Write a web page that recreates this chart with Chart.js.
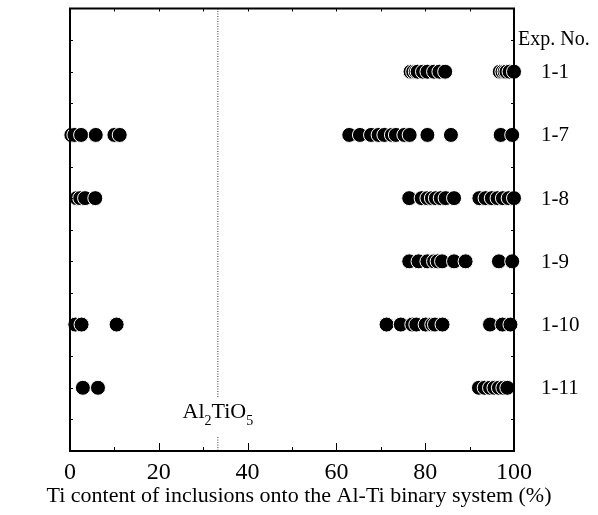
<!DOCTYPE html>
<html>
<head>
<meta charset="utf-8">
<script src="https://cdn.jsdelivr.net/npm/chart.js@4.4.1/dist/chart.umd.min.js"></script>
<style>
  html, body { margin: 0; padding: 0; background: #fff; }
</style>
</head>
<body>
<canvas id="grafico-ti" width="598" height="515"></canvas>
<script>
const experimentos = ['1-1', '1-7', '1-8', '1-9', '1-10', '1-11'];

// Ti content (%) of each inclusion, per experiment
const ti_1_1 = [76.7, 77.3, 77.9, 78.3, 79.5, 80.5, 82.0, 83.2, 84.5, 96.8, 97.4, 97.9, 98.3, 99.0, 100];
const ti_1_7 = [0.3, 1.0, 2.5, 5.8, 10.0, 11.2, 62.9, 65.3, 67.8, 69.5, 70.8, 72.5, 73.4, 75.3, 76.5, 80.5, 85.8, 97.0, 99.6];
const ti_1_8 = [1.5, 2.3, 3.4, 5.7, 76.4, 79.2, 80.5, 81.5, 82.4, 83.5, 84.6, 86.5, 92.2, 93.6, 95.0, 96.3, 97.5, 98.8, 100];
const ti_1_9 = [76.4, 78.5, 80.5, 82.0, 82.8, 83.8, 86.5, 89.1, 96.6, 99.6];
const ti_1_10 = [1.2, 2.6, 10.5, 71.3, 74.5, 77.1, 78.0, 80.1, 81.6, 82.2, 83.9, 94.6, 97.4, 99.2];
const ti_1_11 = [2.9, 6.3, 92.1, 93.4, 94.6, 95.6, 96.6, 97.6, 98.5];

const contenidoTi = [ti_1_1, ti_1_7, ti_1_8, ti_1_9, ti_1_10, ti_1_11];
const al2tio5 = 33.3;
const tituloX = 'Ti content of inclusions onto the Al-Ti binary system (%)';
const FUENTE = '"Liberation Serif", "Times New Roman", serif';

const datasetsPuntos = experimentos.map((exp, i) => ({
  label: exp,
  data: contenidoTi[i].map(v => ({ x: v, y: experimentos.length - i })),
  backgroundColor: '#000',
  borderColor: '#fff',
  borderWidth: 1,
  pointRadius: 7.5,
  clip: false
}));

// dotted Al2TiO5 line, broken where the label sits
const lineaAl = [
  [{ x: al2tio5, y: 7 }, { x: al2tio5, y: 0.83 }],
  [{ x: al2tio5, y: 0.22 }, { x: al2tio5, y: 0 }]
].map(d => ({
  type: 'line',
  data: d,
  borderColor: '#333',
  borderWidth: 1,
  borderDash: [1, 1.5],
  pointRadius: 0,
  showLine: true
}));

const marco = {
  id: 'marco',
  afterDraw(chart) {
    const { ctx, chartArea: a, scales: { x, y } } = chart;
    ctx.save();
    ctx.strokeStyle = '#000';
    ctx.lineWidth = 2;
    ctx.strokeRect(a.left, a.top, a.right - a.left, a.bottom - a.top);

    ctx.lineWidth = 1;
    ctx.beginPath();
    for (let v = 0; v <= 100; v += 10) {
      const px = Math.round(x.getPixelForValue(v)) + 0.5;
      const largo = v % 20 === 0 ? 8 : 4;
      ctx.moveTo(px, a.bottom); ctx.lineTo(px, a.bottom - largo);
      ctx.moveTo(px, a.top); ctx.lineTo(px, a.top + 3);
    }
    for (let v = 0.5; v < 7; v += 0.5) {
      const py = Math.round(y.getPixelForValue(v)) + 0.5;
      ctx.moveTo(a.left, py); ctx.lineTo(a.left + 3, py);
      ctx.moveTo(a.right, py); ctx.lineTo(a.right - 3, py);
    }
    ctx.stroke();

    // experiment labels on the right
    ctx.fillStyle = '#000';
    ctx.textBaseline = 'middle';
    ctx.textAlign = 'left';
    ctx.font = '20px ' + FUENTE;
    ctx.fillText('Exp. No.', a.right + 4, y.getPixelForValue(6.5));
    ctx.font = '21px ' + FUENTE;
    experimentos.forEach((exp, i) => {
      ctx.fillText(exp, a.right + 27, y.getPixelForValue(experimentos.length - i) + 1);
    });

    // x axis title (drawn here so it may be wider than the plot)
    ctx.textAlign = 'center';
    ctx.font = '22px ' + FUENTE;
    ctx.fillText(tituloX, (a.left + a.right) / 2 + 7, a.bottom + 45);

    // Al2TiO5 label
    ctx.textAlign = 'left';
    const partes = [['Al', false], ['2', true], ['TiO', false], ['5', true]];
    const fGrande = '22px ' + FUENTE, fChica = '14px ' + FUENTE;
    let ancho = 0;
    partes.forEach(([t, sub]) => { ctx.font = sub ? fChica : fGrande; ancho += ctx.measureText(t).width; });
    let cx = x.getPixelForValue(al2tio5) - ancho / 2;
    const base = y.getPixelForValue(0.52);
    ctx.textBaseline = 'alphabetic';
    partes.forEach(([t, sub]) => {
      ctx.font = sub ? fChica : fGrande;
      ctx.fillText(t, cx, sub ? base + 7 : base);
      cx += ctx.measureText(t).width;
    });
    ctx.restore();
  }
};

new Chart(document.getElementById('grafico-ti'), {
  type: 'scatter',
  data: { datasets: [...lineaAl, ...datasetsPuntos] },
  options: {
    responsive: false,
    animation: false,
    devicePixelRatio: 1,
    layout: { padding: { left: 70, right: 84, top: 6, bottom: 7 } },
    plugins: { legend: { display: false }, tooltip: { enabled: false } },
    scales: {
      x: {
        type: 'linear',
        min: 0,
        max: 100,
        ticks: { stepSize: 20, color: '#000', padding: 7, font: { family: FUENTE, size: 24 } },
        grid: { display: false, drawTicks: false },
        border: { display: false },
        title: { display: false, text: tituloX },
        afterFit(s) { s.height = 57; }
      },
      y: {
        type: 'linear',
        min: 0,
        max: 7,
        ticks: { display: false },
        grid: { display: false, drawTicks: false },
        border: { display: false },
        afterFit(s) { s.width = 0; }
      }
    }
  },
  plugins: [marco]
});
</script>
</body>
</html>
